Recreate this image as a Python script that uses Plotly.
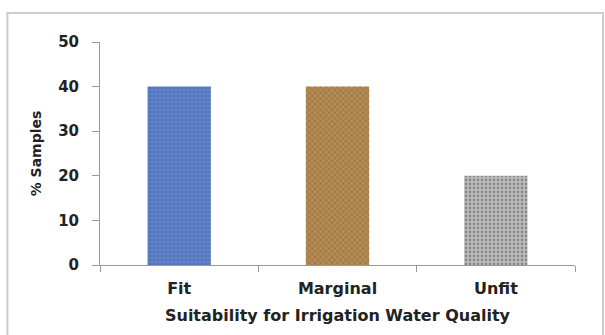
import plotly.graph_objects as go

categories = ["Fit", "Marginal", "Unfit"]
samples_pct = [40, 40, 20]
y_ticks = [0, 10, 20, 30, 40, 50]

bar_colors = ["#5d84d3", "#b88b50", "#b8b8b8"]
pattern_fg = ["#a3b9ea", "#85602f", "#909090"]
pattern_shapes = ["+", "x", "."]

fig = go.Figure()
fig.add_trace(go.Bar(
    x=categories,
    y=samples_pct,
    width=0.4,
    marker=dict(
        color=bar_colors,
        line=dict(width=0),
        pattern=dict(shape=pattern_shapes, fgcolor=pattern_fg, size=4, solidity=0.25),
    ),
    hoverinfo="x+y",
))

FAM = "DejaVu Sans, Arial"
xtick_font = dict(family=FAM, size=16, color="#222222", weight="bold")
ytick_font = dict(family=FAM, size=15, color="#222222", weight="bold")
xtitle_font = dict(family=FAM, size=16, color="#222222", weight="bold")
ytitle_font = dict(family=FAM, size=14, color="#222222", weight="bold")

fig.update_layout(
    width=605, height=335,
    margin=dict(l=100, r=30, t=42, b=70),
    paper_bgcolor="white", plot_bgcolor="white",
    showlegend=False,
    font=xtick_font,
    xaxis=dict(
        showline=True, linecolor="#999999", linewidth=1,
        ticks="outside", tickson="boundaries", ticklen=6, tickcolor="#999999",
        ticklabelstandoff=9,
        showgrid=False,
        title=dict(text="Suitability for Irrigation Water Quality", standoff=12, font=xtitle_font),
        tickfont=xtick_font,
    ),
    yaxis=dict(
        range=[0, 50], tickvals=y_ticks,
        showline=True, linecolor="#999999", linewidth=1,
        ticks="outside", ticklen=7, tickcolor="#999999",
        ticklabelstandoff=10,
        showgrid=False, zeroline=False,
        title=dict(text="% Samples", standoff=13, font=ytitle_font),
        tickfont=ytick_font,
    ),
    shapes=[dict(
        type="rect", xref="paper", yref="paper",
        x0=-0.195, x1=1.059, y0=-0.6, y1=1.13,
        line=dict(color="#cccccc", width=2), layer="below",
    )],
)

fig.write_html("out.html", config={"displayModeBar": False},
               post_script="document.body.style.margin='0px';")
